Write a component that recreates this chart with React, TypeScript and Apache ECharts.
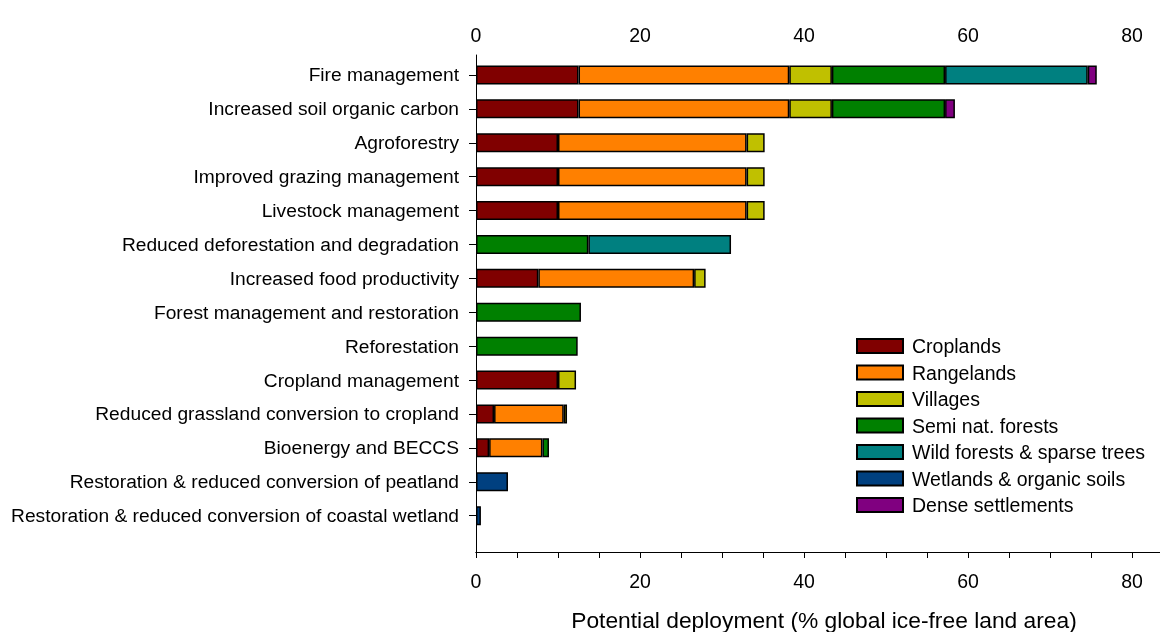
import React, { useEffect, useRef } from "react";
import * as echarts from "echarts";

const categories = [
  "Fire management",
  "Increased soil organic carbon",
  "Agroforestry",
  "Improved grazing management",
  "Livestock management",
  "Reduced deforestation and degradation",
  "Increased food productivity",
  "Forest management and restoration",
  "Reforestation",
  "Cropland management",
  "Reduced grassland conversion to cropland",
  "Bioenergy and BECCS",
  "Restoration & reduced conversion of peatland",
  "Restoration & reduced conversion of coastal wetland",
];

const croplands = [12.5, 12.5, 10.0, 10.0, 10.0, null, 7.6, null, null, 10.0, 2.2, 1.6, null, null];
const rangelands = [25.7, 25.7, 23.0, 23.0, 23.0, null, 19.0, null, null, null, 8.5, 6.5, null, null];
const villages = [5.2, 5.2, 2.2, 2.2, 2.2, null, 1.4, null, null, 2.2, 0.4, null, null, null];
const semiNatForests = [13.8, 13.8, null, null, null, 13.7, null, 12.8, 12.4, null, null, 0.8, null, null];
const wildForests = [17.4, null, null, null, null, 17.4, null, null, null, null, null, null, null, null];
const wetlands = [null, null, null, null, null, null, null, null, null, null, null, null, 3.9, 0.6];
const denseSettlements = [1.1, 1.2, null, null, null, null, null, null, null, null, null, null, null, null];

const seriesDefs = [
  { name: "Croplands", data: croplands, color: "#800000" },
  { name: "Rangelands", data: rangelands, color: "#FF8000" },
  { name: "Villages", data: villages, color: "#C0C000" },
  { name: "Semi nat. forests", data: semiNatForests, color: "#008000" },
  { name: "Wild forests & sparse trees", data: wildForests, color: "#008080" },
  { name: "Wetlands & organic soils", data: wetlands, color: "#004080" },
  { name: "Dense settlements", data: denseSettlements, color: "#800080" },
];

const xTicks = [0, 20, 40, 60, 80];
const X_MAX = 83.41;
const FONT = "'Liberation Sans', Arial, sans-serif";

export default function App() {
  const ref = useRef<HTMLDivElement>(null);
  useEffect(() => {
    if (!ref.current) return;
    const chart = echarts.init(ref.current, null, { renderer: "svg" });
    const fmt = (v: number) => (xTicks.indexOf(Math.round(v * 1000) / 1000) >= 0 ? String(v) : "");
    const valueAxisBase = {
      type: "value",
      min: 0,
      max: X_MAX,
      interval: 5,
      splitLine: { show: false },
      axisLine: { show: true, lineStyle: { color: "#000", width: 1 } },
      axisTick: { show: true, length: 6, lineStyle: { color: "#000", width: 1 } },
      axisLabel: {
        interval: 0,
        formatter: fmt,
        color: "#000",
        fontSize: 19.5,
        fontFamily: FONT,
        showMaxLabel: true,
      },
    };
    chart.setOption({
      animation: false,
      textStyle: { fontFamily: FONT },
      grid: [
        { left: 476, right: 0, top: 58, height: 474.6, containLabel: false, outerBoundsMode: "none" },
        { left: 476, right: 0, top: 55, height: 497, containLabel: false, outerBoundsMode: "none" },
      ],
      xAxis: [
        { type: "value", gridIndex: 0, min: 0, max: X_MAX, show: false },
        {
          ...valueAxisBase,
          gridIndex: 1,
          position: "top",
          axisTick: { ...valueAxisBase.axisTick, inside: true },
          axisLabel: { ...valueAxisBase.axisLabel, margin: 10 },
        },
        {
          ...valueAxisBase,
          gridIndex: 1,
          position: "bottom",
          axisLabel: { ...valueAxisBase.axisLabel, margin: 19 },
          name: "Potential deployment (% global ice-free land area)",
          nameLocation: "middle",
          nameGap: 56,
          nameTextStyle: { color: "#000", fontSize: 22.8, fontFamily: FONT, padding: [0, 0, 0, 12] },
        },
      ],
      yAxis: [
        {
          type: "category",
          gridIndex: 0,
          data: categories,
          inverse: true,
          axisLine: { show: false },
          axisTick: { show: true, alignWithLabel: true, length: 7, lineStyle: { color: "#000", width: 1 } },
          axisLabel: { color: "#000", fontSize: 19.2, fontFamily: FONT, margin: 17 },
        },
        {
          type: "value",
          gridIndex: 1,
          min: 0,
          max: 1,
          axisLine: { show: true, lineStyle: { color: "#000", width: 1 } },
          axisTick: { show: false },
          axisLabel: { show: false },
          splitLine: { show: false },
        },
      ],
      legend: {
        orient: "vertical",
        left: 856,
        top: 336,
        padding: 0,
        itemWidth: 46,
        itemHeight: 14,
        itemGap: 6.5,
        icon: "rect",
        textStyle: { color: "#000", fontSize: 19.5, lineHeight: 20, fontFamily: FONT, padding: [0, 0, 0, 4] },
        data: seriesDefs.map((s) => s.name),
      },
      series: seriesDefs.map((s) => ({
        name: s.name,
        type: "bar",
        stack: "total",
        xAxisIndex: 0,
        yAxisIndex: 0,
        barWidth: 19,
        data: s.data.map((v) => (v === null ? "-" : v)),
        itemStyle: { color: s.color, borderColor: "#000", borderWidth: 1.5 },
        emphasis: { disabled: true },
      })),
    });
    return () => chart.dispose();
  }, []);
  return <div ref={ref} style={{ position: "fixed", left: 0, top: 0, width: 1160, height: 632 }} />;
}
